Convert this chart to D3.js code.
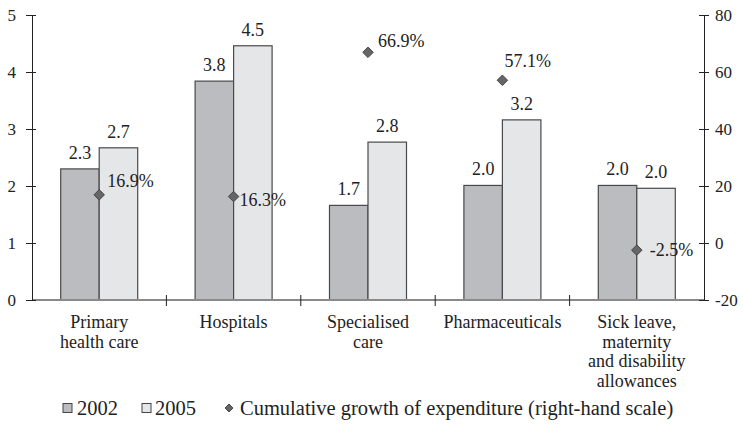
<!DOCTYPE html>
<html>
<head>
<meta charset="utf-8">
<script src="https://cdn.jsdelivr.net/npm/d3@7"></script>
<style>
  body { margin: 0; background: #fff; }
</style>
</head>
<body>
<svg id="chart" width="743" height="427" font-family="Liberation Serif, Times New Roman, Times, serif" font-size="18"></svg>
<script>
// data
var categories = [["Primary", "health care"], ["Hospitals"], ["Specialised", "care"], ["Pharmaceuticals"], ["Sick leave,", "maternity", "and disability", "allowances"]]
var years = ["2002", "2005"]
var values2002 = [2.30, 3.84, 1.66, 2.01, 2.01]
var values2005 = [2.67, 4.46, 2.77, 3.16, 1.96]
var growth = [16.9, 16.3, 66.9, 57.1, -2.5]
var leftTicks = [0, 1, 2, 3, 4, 5]
var rightTicks = [-20, 0, 20, 40, 60, 80]
var legendLabels = ["2002", "2005", "Cumulative growth of expenditure (right-hand scale)"]

// where each growth label sits relative to its diamond
var growthLabelNudge = [[8, -8], [6, 9], [10, -5], [2, -13], [13, 6]]

var fmt = d3.formatLocale({decimal: ".", thousands: ",", grouping: [3], currency: ["", ""], minus: "-"})

var svg = d3.select("#chart")
var plotL = 32, plotR = 704, plotT = 15, plotB = 300
var ink = "#222"

var x0 = d3.scaleBand().domain(d3.range(categories.length)).range([plotL, plotR])
    .paddingInner(0.427).paddingOuter(0.2135)
var x1 = d3.scaleBand().domain(years).range([0, x0.bandwidth()])
var yL = d3.scaleLinear().domain([0, 5]).range([plotB, plotT])
var yR = d3.scaleLinear().domain([-20, 80]).range([plotB, plotT])

var fills = {"2002": "#bbbcc0", "2005": "#e5e6e8"}
var series = {"2002": values2002, "2005": values2005}

// bars
years.forEach(function(yr){
    var g = svg.append("g")
    g.selectAll("rect").data(series[yr]).enter().append("rect")
        .attr("x", function(d, i){ return x0(i) + x1(yr) })
        .attr("y", function(d){ return yL(d) })
        .attr("width", x1.bandwidth())
        .attr("height", function(d){ return yL(0) - yL(d) })
        .attr("fill", fills[yr])
        .attr("stroke", "#4a4a4a")
        .attr("stroke-width", 1.2)
    g.selectAll("text").data(series[yr]).enter().append("text")
        .attr("x", function(d, i){ return x0(i) + x1(yr) + x1.bandwidth() / 2 })
        .attr("y", function(d){ return yL(d) - 10 })
        .attr("text-anchor", "middle")
        .text(function(d){ return fmt.format(".1f")(d) })
})

// x axis line
svg.append("line")
    .attr("x1", plotL).attr("x2", plotR)
    .attr("y1", plotB).attr("y2", plotB)
    .attr("stroke", "#8a8a8a").attr("stroke-width", 2)

// category separator ticks
var seps = d3.range(1, categories.length).map(function(i){ return x0(i) - x0.step() * x0.paddingInner() / 2 })
svg.selectAll(".sep").data(seps).enter().append("line")
    .attr("x1", function(d){ return d }).attr("x2", function(d){ return d })
    .attr("y1", plotB - 5).attr("y2", plotB + 6)
    .attr("stroke", ink).attr("stroke-width", 1)

// category labels
var catG = svg.selectAll(".cat").data(categories).enter().append("text")
    .attr("text-anchor", "middle")
    .attr("transform", function(d, i){ return "translate(" + (x0(i) + x0.bandwidth() / 2) + ",328)" })
catG.selectAll("tspan").data(function(d){ return d }).enter().append("tspan")
    .attr("x", 0)
    .attr("y", function(d, i){ return i * 19.5 })
    .text(function(d){ return d })

// left axis
var leftAxis = d3.axisLeft(yL).tickValues(leftTicks).tickSize(0).tickPadding(16).tickFormat(fmt.format("d"))
var la = svg.append("g").attr("transform", "translate(" + plotL + ",0)").call(leftAxis)
la.attr("font-family", null).attr("font-size", 17)
la.select(".domain").attr("stroke", ink)
la.selectAll(".tick").append("line").attr("x1", -6).attr("x2", 4).attr("stroke", ink)

// right axis
var rightAxis = d3.axisRight(yR).tickValues(rightTicks).tickSize(0).tickPadding(11).tickFormat(fmt.format("d"))
var ra = svg.append("g").attr("transform", "translate(" + plotR + ",0)").call(rightAxis)
ra.attr("font-family", null).attr("font-size", 17)
ra.select(".domain").attr("stroke", ink)
ra.selectAll(".tick").append("line").attr("x1", -5).attr("x2", 5).attr("stroke", ink)

// growth diamonds
var diamond = d3.symbol().type(d3.symbolDiamond2).size(70)
svg.selectAll(".dia").data(growth).enter().append("path")
    .attr("d", diamond)
    .attr("transform", function(d, i){ return "translate(" + (x0(i) + x0.bandwidth() / 2) + "," + yR(d) + ")" })
    .attr("fill", "#666")
    .attr("stroke", "#444")
svg.selectAll(".glab").data(growth).enter().append("text")
    .attr("x", function(d, i){ return x0(i) + x0.bandwidth() / 2 + growthLabelNudge[i][0] })
    .attr("y", function(d, i){ return yR(d) + growthLabelNudge[i][1] })
    .text(function(d){ return fmt.format(".1f")(d) + "%" })

// legend
var lg = svg.append("g").attr("transform", "translate(0,408)").attr("font-size", 20.5)
lg.append("rect").attr("x", 63).attr("y", -4.5).attr("width", 9).attr("height", 9)
    .attr("fill", fills["2002"]).attr("stroke", "#444")
lg.append("text").attr("x", 77).attr("y", 7).text(legendLabels[0])
lg.append("rect").attr("x", 142).attr("y", -4.5).attr("width", 9).attr("height", 9)
    .attr("fill", fills["2005"]).attr("stroke", "#444")
lg.append("text").attr("x", 155).attr("y", 7).text(legendLabels[1])
lg.append("path").attr("d", d3.symbol().type(d3.symbolDiamond2).size(40))
    .attr("transform", "translate(229,0)").attr("fill", "#666").attr("stroke", "#444")
lg.append("text").attr("x", 240).attr("y", 7).text(legendLabels[2])

svg.selectAll("text").attr("fill", ink)
</script>
</body>
</html>
